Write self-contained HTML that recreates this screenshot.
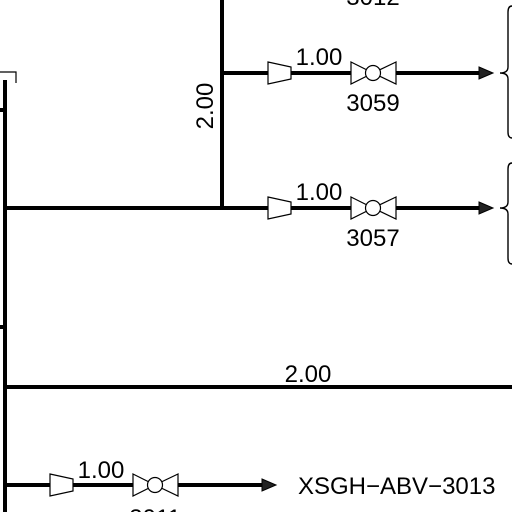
<!DOCTYPE html>
<html><head><meta charset="utf-8"><style>
html,body{margin:0;padding:0;background:#fff;width:512px;height:512px;overflow:hidden}
text{font-family:"Liberation Sans",sans-serif;font-size:24px;fill:#000}
</style></head><body>
<svg width="512" height="512" viewBox="0 0 512 512" xmlns="http://www.w3.org/2000/svg">
<g stroke="#000" fill="none">
<path d="M0 72 H16 V83" stroke-width="1.2"/>
<line x1="5" y1="80" x2="5" y2="512" stroke-width="4"/>
<line x1="0" y1="110" x2="5" y2="110" stroke-width="4"/>
<line x1="0" y1="327" x2="5" y2="327" stroke-width="4"/>
<line x1="222" y1="0" x2="222" y2="208" stroke-width="4"/>
<line x1="222" y1="73" x2="480" y2="73" stroke-width="4"/>
<line x1="5" y1="208" x2="480" y2="208" stroke-width="4"/>
<line x1="5" y1="387" x2="512" y2="387" stroke-width="4"/>
<line x1="5" y1="485" x2="263" y2="485" stroke-width="4"/>
</g>
<g stroke="#000" stroke-width="1.2" fill="#fff">
<polygon points="268,62 291,67 291,79 268,84"/>
<polygon points="351,62 373,73 351,84"/>
<polygon points="396,62 373,73 396,84"/>
<circle cx="373" cy="73" r="7.5"/>
<polygon points="268,197 291,202 291,214 268,219"/>
<polygon points="351,197 373,208 351,219"/>
<polygon points="396,197 373,208 396,219"/>
<circle cx="373" cy="208" r="7.5"/>
<polygon points="50,474 73,479 73,491 50,496"/>
<polygon points="133,474 155,485 133,496"/>
<polygon points="178,474 155,485 178,496"/>
<circle cx="155" cy="485" r="7.5"/>
</g>
<g fill="#222" stroke="#000" stroke-width="1">
<polygon points="479,67 493,73 479,79"/>
<polygon points="479,202 493,208 479,214"/>
<polygon points="262,479 276,485 262,491"/>
</g>
<g stroke="#000" stroke-width="1.4" fill="none">
<path d="M512 6 Q508 6 508 12 V67 Q508 73 500 73 Q508 73 508 79 V132 Q508 138 512 138"/>
<path d="M512 163 Q508 163 508 169 V202 Q508 208 500 208 Q508 208 508 214 V258 Q508 264 512 264"/>
</g>
<text x="373" y="5" text-anchor="middle">3012</text>
<text x="319" y="65" text-anchor="middle">1.00</text>
<text x="373" y="111" text-anchor="middle">3059</text>
<text x="319" y="200" text-anchor="middle">1.00</text>
<text x="373" y="246" text-anchor="middle">3057</text>
<text x="308" y="382" text-anchor="middle">2.00</text>
<text x="101" y="478" text-anchor="middle">1.00</text>
<text x="155" y="526" text-anchor="middle">3011</text>
<text x="298" y="494">XSGH−ABV−3013</text>
<text transform="translate(213,106) rotate(-90)" text-anchor="middle">2.00</text>
</svg>
</body></html>
